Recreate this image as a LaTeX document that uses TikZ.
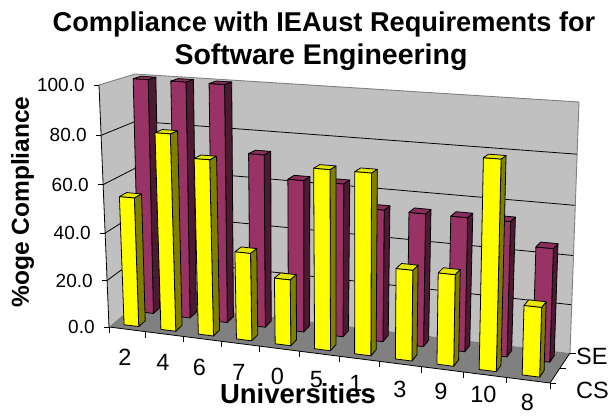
\documentclass[tikz,border=0pt]{standalone}
\usepackage{fontspec}
\setmainfont{Liberation Sans}

\definecolor{wallgray}{HTML}{C0C0C0}
\definecolor{floorgray}{HTML}{808080}
\definecolor{csfront}{HTML}{FFFF00}
\definecolor{csside}{HTML}{808000}
\definecolor{cstop}{HTML}{E6E600}
\definecolor{sefront}{HTML}{993366}
\definecolor{seside}{HTML}{4D1A33}
\definecolor{setop}{HTML}{8A2E5C}

% perspective squeeze along the categories and the heights
\pgfmathdeclarefunction{uw}{1}{\pgfmathparse{#1/(#1+1.1*(1-#1))}}
\pgfmathdeclarefunction{hw}{1}{\pgfmathparse{#1/(#1+1.05*(1-#1))}}

% point in the chart box: #1 categories, #2 depth, #3 height (0..1)
\newcommand{\boxpt}[3]{(barycentric cs:%
  c000={(1-uw(#1))*(1-(#2))*(1-hw(#3))},c100={uw(#1)*(1-(#2))*(1-hw(#3))},%
  c010={(1-uw(#1))*(#2)*(1-hw(#3))},c110={uw(#1)*(#2)*(1-hw(#3))},%
  c001={(1-uw(#1))*(1-(#2))*hw(#3)},c101={uw(#1)*(1-(#2))*hw(#3)},%
  c011={(1-uw(#1))*(#2)*hw(#3)},c111={uw(#1)*(#2)*hw(#3)})}

% one column: #1 category, #2 front depth, #3 value, #4 series
\newcommand{\drawcolumn}[4]{%
  \pgfmathsetmacro\colL{(#1+0.3)/11}%
  \pgfmathsetmacro\colR{(#1+0.7)/11}%
  \pgfmathsetmacro\depA{#2}%
  \pgfmathsetmacro\depB{#2+0.22}%
  \pgfmathsetmacro\colH{#3/100}%
  \filldraw[barline, fill=#4side] \boxpt{\colR}{\depA}{0} -- \boxpt{\colR}{\depB}{0}
    -- \boxpt{\colR}{\depB}{\colH} -- \boxpt{\colR}{\depA}{\colH} -- cycle;
  \filldraw[barline, fill=#4front] \boxpt{\colL}{\depA}{0} -- \boxpt{\colR}{\depA}{0}
    -- \boxpt{\colR}{\depA}{\colH} -- \boxpt{\colL}{\depA}{\colH} -- cycle;
  \filldraw[barline, fill=#4top] \boxpt{\colL}{\depA}{\colH} -- \boxpt{\colR}{\depA}{\colH}
    -- \boxpt{\colR}{\depB}{\colH} -- \boxpt{\colL}{\depB}{\colH} -- cycle;
}

\begin{document}
\begin{tikzpicture}[x=1pt, y=-1pt,
    wall/.style={fill=wallgray},
    rim/.style={draw=floorgray, line width=0.9pt},
    gridline/.style={draw=black, line width=0.8pt},
    axisline/.style={draw=black, line width=0.8pt},
    barline/.style={draw=black, line width=0.8pt, line join=round},
    ticklab/.style={font=\fontsize{19}{19}\selectfont, inner sep=0pt},
    catlab/.style={font=\fontsize{23.5}{24}\selectfont, inner sep=0pt},
    axtitle/.style={font=\fontsize{24.5}{25}\selectfont\bfseries, inner sep=0pt},
]
\useasboundingbox (0,0) rectangle (611,417);

% Box corners
\coordinate (c000) at (109,327);
\coordinate (c100) at (550,383);
\coordinate (c010) at (139,301);
\coordinate (c110) at (570,353);
\coordinate (c001) at (99,85);
\coordinate (c101) at (558,115);
\coordinate (c011) at (135,74);
\coordinate (c111) at (579,102);

% Walls and floor
\fill[wall] (c000) -- (c010) -- (c011) -- (c001) -- cycle;
\fill[wall] (c010) -- (c110) -- (c111) -- (c011) -- cycle;
\fill[floorgray] (c000) -- (c100) -- (c110) -- (c010) -- cycle;

% Gridlines
\foreach \h in {0.2,0.4,0.6,0.8}
  \draw[gridline] \boxpt{0}{0}{\h} -- \boxpt{0}{1}{\h} -- \boxpt{1}{1}{\h};
\draw[rim] (c001) -- (c011) -- (c111) -- (c110);

% Axes
\draw[axisline] (c001) -- (c000) -- (c100) -- (c110);
\foreach \h/\lab in {0/0.0,0.2/20.0,0.4/40.0,0.6/60.0,0.8/80.0,1/100.0}
  \draw[axisline] \boxpt{0}{0}{\h} -- ++(-5,0) node[ticklab, anchor=east, xshift=-9pt] {\lab};
\foreach \k in {0,...,11}
  \draw[axisline] \boxpt{\k/11}{0}{0} -- ++(0,6);
\foreach \v in {0,0.5,1}
  \draw[axisline] \boxpt{1}{\v}{0} -- ++(6,0);

% Columns, SE behind CS
\foreach \val [count=\i from 0] in {100,100,100,72.7,63.6,63.6,54.5,54.5,54.5,54.5,45.5}
  \drawcolumn{\i}{0.64}{\val}{se};
\foreach \val [count=\i from 0] in {54.5,81.8,72.7,36.4,27.3,72.7,72.7,36.4,36.4,81.8,27.3}
  \drawcolumn{\i}{0.14}{\val}{cs};

% Category labels
\foreach \lab/\x/\y in {2/125/357.6,4/163/362.7,6/199.5/367.8,7/239/372.9,0/277.5/376.5,
    5/316.4/379.5,1/356/383,3/399.8/389.8,9/441/391.5,10/483.4/394.9,8/527.5/402.5}
  \node[catlab] (cat\lab) at (\x,\y) {\lab};

% Series labels
\node[catlab, anchor=west] (se) at (576,356.5) {SE};
\node[catlab, anchor=west] (cs) at (576,390) {CS};

% Titles
\node[font=\fontsize{27.2}{33}\selectfont\bfseries, inner sep=0pt, anchor=base] (title1)
  at (324,31.5) {Compliance with IEAust Requirements for};
\node[font=\fontsize{28.5}{33}\selectfont\bfseries, inner sep=0pt, anchor=base] (title2)
  at (321,64.5) {Software Engineering};
\node[axtitle, rotate=90] (ytitle) at (22.5,202) {\%oge Compliance};
\node[font=\fontsize{27.5}{28}\selectfont\bfseries, inner sep=0pt, anchor=base] (xtitle)
  at (298,403) {Universities};

\end{tikzpicture}
\end{document}
